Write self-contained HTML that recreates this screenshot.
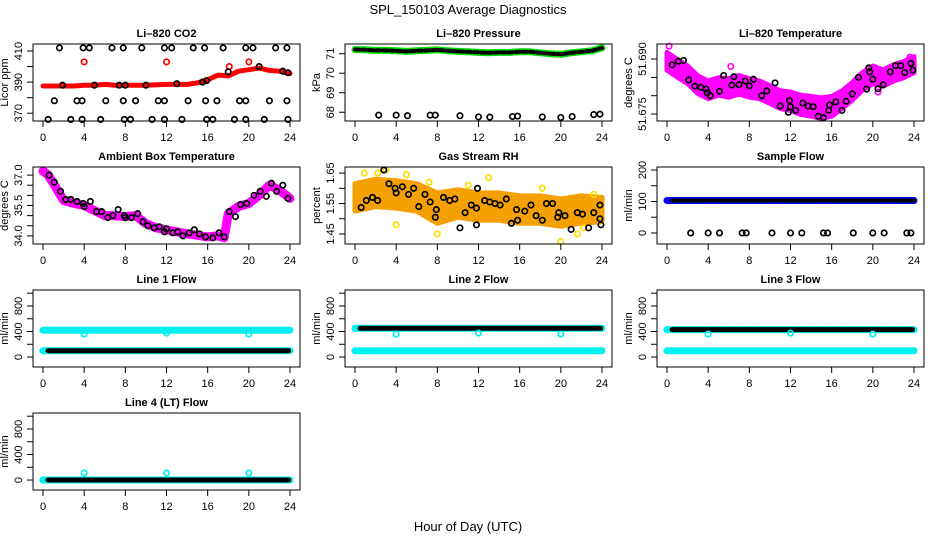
<!DOCTYPE html>
<html><head><meta charset="utf-8">
<style>
html,body{margin:0;padding:0;background:#fff;}
svg{display:block;font-family:"Liberation Sans",sans-serif;}
</style></head>
<body>
<svg id="chart" width="936" height="540" viewBox="0 0 936 540" xmlns="http://www.w3.org/2000/svg">
<text x="468" y="14" text-anchor="middle" font-size="13">SPL_150103  Average Diagnostics</text>
<text x="468" y="531" text-anchor="middle" font-size="13">Hour of Day (UTC)</text>
</svg>
<script>
// ---- data ----
const hours = [0,1,2,3,4,5,6,7,8,9,10,11,12,13,14,15,16,17,18,19,20,21,22,23,24];
const xTicks = [0,4,8,12,16,20,24];

const co2Line = [387.5,387.5,387.5,387.5,388,388,388.5,388,388,388,388,388.3,388.5,388.5,388.5,389.5,391.5,394.5,394,397,398,399,397.5,397,395.5];
const co2BlackT = [1.6,3.9,4.5,6.7,7.8,9.6,11.8,12.5,14.6,15.7,17.5,19.7,20.4,22.6,23.7, 1.1,3.3,3.8,6.1,7.8,9.0,11.2,11.8,14.1,15.8,16.9,19.1,19.7,22,23.7, 0.5,2.7,3.8,5.6,7.9,8.5,10.6,11.8,13.5,15.9,16.5,18.6,19.7,21.5,23.8, 1.9,5,7.4,8,10,13,15.5,15.9,18,21,23.3,23.8];
const co2BlackV = [412,412,412,412,412,412,412,412,412,412,412,412,412,412,412, 378,378,378,378,378,378,378,378,378,378,378,378,378,378,378, 366,366,366,366,366,366,366,366,366,366,366,366,366,366,366, 388,388,388,388,388,389,390,391,396.6,400,397,396];
const co2RedT = [4,12,20,18.1];
const co2RedV = [403,403,403,400];

const presLine = [71.22,71.2,71.17,71.17,71.15,71.12,71.15,71.17,71.2,71.15,71.12,71.1,71.07,71.05,71.07,71.07,71.1,71.1,71.05,71.0,70.97,71.05,71.1,71.15,71.3];
const presLowT = [2.3,4.0,5.1,7.3,7.8,10.2,12.0,13.1,15.3,15.8,18.2,20.0,21.1,23.2,23.8];
const presLowV = [67.85,67.85,67.82,67.85,67.85,67.82,67.76,67.75,67.78,67.8,67.76,67.73,67.78,67.88,67.9];

const tempLine = [51.6894,51.6875,51.6857,51.6830,51.6816,51.6825,51.6821,51.6830,51.6821,51.6816,51.6803,51.6789,51.6785,51.6775,51.6771,51.6766,51.6771,51.6789,51.6812,51.6839,51.6857,51.6848,51.6862,51.6871,51.6885];
const tempSpread = [0.0024,0.0024,0.0024,0.0024,0.0024,0.0024,0.0025,0.0025,0.0025,0.0024,0.0024,0.0024,0.0025,0.0026,0.0027,0.0028,0.0027,0.0024,0.0024,0.0024,0.0024,0.0022,0.0022,0.0022,0.0022];
const tempPinkT = [0.2,6.2,20.5,0.1,23.6];
const tempPinkV = [51.6935,51.6880,51.6810,51.6880,51.6905];
const tempBlackT = [0.5,1.1,1.6,2.1,2.7,3.3,3.8,3.9,4.2,5.1,5.5,6.3,6.5,7.6,8.0,7.0,8.4,9.2,9.7,10.5,11.0,11.8,12.0,11.9,12.5,13.2,13.7,14.2,14.7,15.2,15.7,15.8,16.4,17.0,17.4,18.0,18.6,19.4,19.7,19.6,20.0,20.5,21.0,21.7,22.2,22.7,23.1,23.7,23.9];
const tempBlackV = [51.6884,51.6894,51.6896,51.6843,51.6826,51.6823,51.6818,51.6808,51.6800,51.6812,51.6855,51.6829,51.6852,51.6840,51.6827,51.6830,51.6845,51.6800,51.6813,51.6835,51.6772,51.6755,51.6770,51.6787,51.6760,51.6780,51.6772,51.6770,51.6744,51.6740,51.6760,51.6775,51.6783,51.6760,51.6785,51.6805,51.6850,51.6818,51.6865,51.6876,51.6845,51.6819,51.6830,51.6865,51.6882,51.6882,51.6863,51.6888,51.6870];

const ambT = [0,0.5,1,2,3,4,5,6,7,8,9,10,11,12,13,14,15,16,17,17.6,18,19,20,21,22,23,24];
const ambV = [37.2,37.0,36.6,35.75,35.6,35.5,35.25,35.0,35.0,34.95,35.0,34.6,34.4,34.3,34.2,34.1,34.03,33.95,34.0,33.9,35.1,35.45,35.6,36.0,36.5,36.25,35.85];
const ambBlackT = [0.6,1.1,1.7,2.2,2.7,3.3,3.9,4.0,4.6,5.2,5.7,6.3,6.8,7.3,7.9,8.0,8.6,9.2,9.7,10.2,10.8,11.3,11.8,12.0,12.6,13.1,13.6,14.2,14.7,15.2,15.8,16.5,17.1,17.6,18.1,18.7,19.2,19.8,20.5,21.1,21.7,22.2,22.7,23.3,23.8];
const ambBlackV = [37.0,36.65,36.2,35.8,35.8,35.7,35.6,35.45,35.7,35.2,35.2,34.9,35.0,35.3,35.0,34.9,34.9,35.1,34.7,34.5,34.4,34.45,34.2,34.35,34.15,34.2,34.0,34.15,34.3,34.1,33.95,33.9,34.15,33.95,35.2,34.95,35.55,35.6,36.0,36.2,35.95,36.6,36.2,36.5,35.85];

const rhT = [0,2,4,6,8,10,12,14,16,18,20,22,24];
const rhV = [1.57,1.585,1.58,1.57,1.535,1.55,1.54,1.54,1.53,1.53,1.52,1.53,1.53];
const rhSpread = [0.045,0.045,0.045,0.045,0.05,0.045,0.045,0.045,0.045,0.045,0.045,0.045,0.04];
const rhYellowT = [0.9,2.2,5.0,7.2,13.0,4.0,8.0,20,21.6,22.2,18.2,23.2,11.0,3.0];
const rhYellowV = [1.65,1.65,1.645,1.62,1.635,1.48,1.45,1.425,1.45,1.47,1.6,1.58,1.61,1.66];
const rhBlackT = [0.6,1.1,1.7,2.2,2.8,3.3,3.9,4.0,4.6,5.2,5.7,6.2,6.8,7.3,7.9,7.8,8.6,9.2,9.7,10.2,10.7,11.3,11.8,11.8,11.9,12.6,13.1,13.6,14.1,14.7,15.2,15.7,15.8,16.5,17.1,17.6,18.2,18.6,19.2,19.7,19.8,20.4,21.0,21.6,22.1,22.7,23.2,23.8,23.8,23.9];
const rhBlackV = [1.537,1.56,1.57,1.56,1.66,1.615,1.60,1.585,1.605,1.58,1.60,1.54,1.58,1.555,1.53,1.505,1.57,1.56,1.565,1.47,1.52,1.545,1.535,1.48,1.60,1.56,1.555,1.55,1.545,1.565,1.485,1.53,1.495,1.525,1.545,1.51,1.495,1.55,1.55,1.505,1.52,1.51,1.465,1.52,1.515,1.47,1.52,1.545,1.50,1.48];

const sfLevel = [103,103];
const sfZeroT = [2.3,4.0,5.1,7.3,7.7,10.2,12.0,13.1,15.2,15.6,18.1,20.0,21.1,23.3,23.7];

const spanT = [0,24];
const l1Cyan = 420, l1Black = 100;
const l2Black = 450, l2Cyan = 100;
const l3Black = 430, l3Cyan = 100;
const l4Black = 0, l4Cyan = 0;
const dipT = [4,12,20];
const dipV = [360,375,360];
const l4SpikeV = [110,110,110];

// ---- drawing ----
const svg = document.getElementById('chart');
const NS = 'http://www.w3.org/2000/svg';
function mk(tag, attrs, parent){
  const e = document.createElementNS(NS, tag);
  for (const k in attrs) e.setAttribute(k, attrs[k]);
  (parent||svg).appendChild(e);
  return e;
}

function panel(c, r, key, title, ylab, ymin, ymax, ticks, labels, fmt){
  const g = mk('g', {});
  
  
  const x0 = 33 + 312*c, x1 = 300 + 312*c;
  const y0 = 44 + 123*r, y1 = 121 + 123*r;
  const sx = h => 43 + 312*c + h*247/24;
  const sy = v => y1 - (v - ymin)/(ymax - ymin)*(y1 - y0);
  const t = mk('text', {x:(x0+x1)/2, y:y0-7, 'text-anchor':'middle', 'font-size':'11', 'font-weight':'bold'}, g);
  t.textContent = title;
  
  
  const data = mk('g', {}, g);
  
  
  const ax = mk('g', {stroke:'#000', 'stroke-width':'1', fill:'none'}, g);
  
  
  mk('rect', {x:x0, y:y0, width:x1-x0, height:y1-y0}, ax);
  mk('line', {x1:sx(0), x2:sx(24), y1:y1, y2:y1}, ax);
  xTicks.forEach(h => {
    mk('line', {x1:sx(h), x2:sx(h), y1:y1, y2:y1+6}, ax);
    const tl = mk('text', {x:sx(h), y:y1+20, 'text-anchor':'middle', 'font-size':'11', fill:'#000', stroke:'none'}, g);
    tl.textContent = h;
    
    
  });
  ticks.forEach(v => {
    mk('line', {x1:x0-6, x2:x0, y1:sy(v), y2:sy(v)}, ax);
  });
  labels.forEach(v => {
    const tx = x0-11, ty = sy(v);
    const tl = mk('text', {x:tx, y:ty, 'text-anchor':'middle', 'font-size':'11', transform:`rotate(-90 ${tx} ${ty})`}, g);
    tl.textContent = fmt ? v.toFixed(fmt) : v;
    
    
  });
  const yx = x0-25, yy = (y0+y1)/2;
  const yl = mk('text', {x:yx, y:yy, 'text-anchor':'middle', 'font-size':'11', transform:`rotate(-90 ${yx} ${yy})`}, g);
  yl.textContent = ylab;
  
  
  svg.appendChild(ax);
  return {g:data, sx, sy};
}

function line(p, T, V, color, w, name, dash){
  const pts = T.map((t,i) => p.sx(t).toFixed(1)+','+p.sy(V[i]).toFixed(1)).join(' ');
  const e = mk('polyline', {points:pts, fill:'none', stroke:color, 'stroke-width':w, 'stroke-linejoin':'round', 'stroke-linecap':'round'}, p.g);
  if (dash) e.setAttribute('stroke-dasharray', dash);
  
  
}
function band(p, T, V, S, color, name){
  const up = T.map((t,i) => p.sx(t).toFixed(1)+','+p.sy(V[i]+S[i]).toFixed(1));
  const dn = T.map((t,i) => p.sx(t).toFixed(1)+','+p.sy(V[i]-S[i]).toFixed(1)).reverse();
  const e = mk('polygon', {points:up.concat(dn).join(' '), fill:color, stroke:color, 'stroke-width':'5', 'stroke-linejoin':'round'}, p.g);
  
  
}
function pts(p, T, V, color, name, r, fill){
  T.forEach((t,i) => {
    const e = mk('circle', {cx:p.sx(t), cy:p.sy(V[i]), r:r||2.7, fill:fill||'none', stroke:color, 'stroke-width':'1.7'}, p.g);
    
    
  });
}

// CO2
let p = panel(0,0,'co2','Li\u2013820 CO2','Licor ppm',365,414.5,[370,380,390,400,410],[370,390,410]);
line(p, hours, co2Line, '#ff0000', 5, 'co2-red-series');
pts(p, co2RedT, co2RedV, '#ff0000', 'co2-red-point');
pts(p, co2BlackT, co2BlackV, '#000', 'co2-black-point');

// Pressure
p = panel(1,0,'pressure','Li\u2013820 Pressure','kPa',67.55,71.5,[68,69,70,71],[68,69,70,71]);
line(p, hours, presLine, '#00dd00', 7, 'pressure-green-series');
line(p, hours, presLine, '#000', 4, 'pressure-black-series', '4 3');
pts(p, presLowT, presLowV, '#000', 'pressure-low-point');

// Li-820 temperature
p = panel(2,0,'li820-temp','Li\u2013820 Temperature','degrees C',51.6731,51.6941,[51.675,51.680,51.685,51.690],[51.675,51.690],3);
band(p, hours, tempLine, tempSpread, '#ff00ff', 'li820-temp-pink-cloud');
pts(p, tempPinkT, tempPinkV, '#ff00ff', 'li820-temp-pink-point');
pts(p, tempBlackT, tempBlackV, '#000', 'li820-temp-black-point');

// Ambient
p = panel(0,1,'ambient','Ambient Box Temperature','degrees C',33.6,37.4,[34,34.5,35,35.5,36,36.5,37],[34,35.5,37],1);
line(p, ambT, ambV, '#ff00ff', 9, 'ambient-pink-series');
pts(p, ambBlackT, ambBlackV, '#000', 'ambient-black-point');

// RH
p = panel(1,1,'rh','Gas Stream RH','percent',1.417,1.67,[1.45,1.5,1.55,1.6,1.65],[1.45,1.55,1.65],2);
band(p, rhT, rhV, rhSpread, '#f4a000', 'rh-orange-cloud');
pts(p, rhYellowT, rhYellowV, '#ffdd00', 'rh-yellow-point');
pts(p, rhBlackT, rhBlackV, '#000', 'rh-black-point');

// Sample flow
p = panel(2,1,'sample-flow','Sample Flow','ml/min',-35,209.5,[0,50,100,150,200],[0,100,200]);
line(p, spanT, sfLevel, '#0000ff', 7, 'sample-flow-blue-series');
line(p, [0.5,24], sfLevel, '#000', 4, 'sample-flow-black-series', '4 3');
pts(p, sfZeroT, sfZeroT.map(()=>0), '#000', 'sample-flow-zero-point');

function flowPanel(c, r, key, title, lowColor, lowV, highColor, highV){
  const q = panel(c, r, key, title, 'ml/min', -156, 1050, [0,200,400,600,800,1000], [0,400,800]);
  line(q, spanT, [lowV,lowV], '#00f0f0', 7, key+'-low-cyan-series');
  line(q, spanT, [highV,highV], '#00f0f0', 7, key+'-high-cyan-series');
  const blackV = lowColor === '#000' ? lowV : highV;
  line(q, [0.5,24], [blackV,blackV], '#000', 5, key+'-black-series', '4 1.5');
  return q;
}
let f = flowPanel(0,2,'line1-flow','Line 1 Flow','#000',l1Black,'#00f0f0',l1Cyan);
pts(f, dipT, dipV, '#00f0f0', 'line1-dip-point');
f = flowPanel(1,2,'line2-flow','Line 2 Flow','#00f0f0',l2Cyan,'#000',l2Black);
pts(f, dipT, dipV, '#00f0f0', 'line2-dip-point');
f = flowPanel(2,2,'line3-flow','Line 3 Flow','#00f0f0',l3Cyan,'#000',l3Black);
pts(f, dipT, dipV, '#00f0f0', 'line3-dip-point');
const p4 = panel(0,3,'line4-flow','Line 4 (LT) Flow','ml/min',-156,1050,[0,200,400,600,800,1000],[0,400,800]);
line(p4, spanT, [l4Cyan,l4Cyan], '#00f0f0', 7, 'line4-cyan-series');
line(p4, [0.5,24], [l4Black,l4Black], '#000', 5, 'line4-black-series', '4 1.5');
pts(p4, dipT, l4SpikeV, '#00f0f0', 'line4-spike-point');
</script>
</body></html>
